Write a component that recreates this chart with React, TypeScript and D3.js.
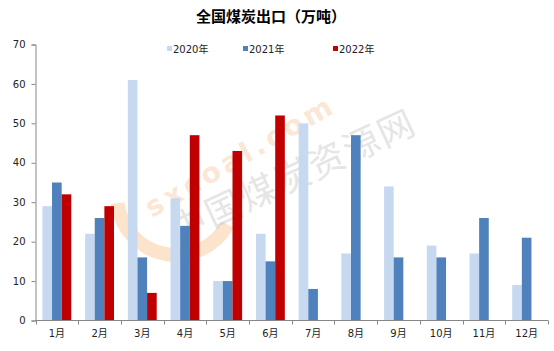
import React, { useRef, useEffect } from "react";
import * as d3 from "d3";

const months = ["1月", "2月", "3月", "4月", "5月", "6月", "7月", "8月", "9月", "10月", "11月", "12月"];
const seriesNames = ["2020年", "2021年", "2022年"];
const colors = ["#C6D9F1", "#4F81BD", "#C00000"];
const v2020 = [29, 22, 61, 31, 10, 22, 50, 17, 34, 19, 17, 9];
const v2021 = [35, 26, 16, 24, 10, 15, 8, 47, 16, 16, 26, 21];
const v2022 = [32, 29, 7, 47, 43, 52];
const yTicks = [0, 10, 20, 30, 40, 50, 60, 70];

export default function App() {
  const ref = useRef<SVGSVGElement>(null);

  useEffect(() => {
    const width = 554;
    const height = 351;
    const left = 35.5;
    const right = 548;
    const top = 44.5;
    const bottom = 320.5;
    const font = "Tahoma, 'DejaVu Sans', 'Noto Sans CJK SC', sans-serif";

    const svg = d3.select(ref.current);
    svg.selectAll("*").remove();
    svg.attr("width", width).attr("height", height);

    svg.append("rect").attr("width", width).attr("height", height).attr("fill", "#fff");

    // watermark (faint)
    const wm = svg.append("g");
    const arc = d3.arc()({
      innerRadius: 52,
      outerRadius: 66,
      startAngle: -Math.PI * 0.95,
      endAngle: -Math.PI * 0.15,
    } as any);
    wm.append("path")
      .attr("d", arc as string)
      .attr("transform", "translate(176,196) rotate(-70)")
      .attr("fill", "#F8C48F")
      .attr("opacity", 0.45);
    wm.append("text")
      .attr("transform", "translate(152,218) rotate(-30)")
      .attr("font-family", "Verdana, 'DejaVu Sans', sans-serif")
      .attr("font-weight", "bold")
      .attr("font-size", 28)
      .attr("fill", "#F7B27A")
      .attr("opacity", 0.3)
      .attr("letter-spacing", 4)
      .text("sxcoal.com");
    wm.append("text")
      .attr("transform", "translate(178,244) rotate(-25)")
      .attr("font-family", "'Noto Sans CJK SC', sans-serif")
      .attr("font-size", 36)
      .attr("fill", "#aaa")
      .attr("opacity", 0.3)
      .attr("letter-spacing", 2)
      .text("中国煤炭资源网");

    const y = d3.scaleLinear().domain([0, 70]).range([bottom, top]);
    const x0 = d3.scaleBand().domain(months).range([left, right]).padding(0);
    const x1 = d3
      .scaleBand()
      .domain(seriesNames)
      .range([0, x0.bandwidth()])
      .paddingInner(0)
      .paddingOuter(0.72);

    const data = [v2020, v2021, v2022];

    const groups = svg
      .append("g")
      .selectAll("g")
      .data(months)
      .enter()
      .append("g")
      .attr("transform", (m) => `translate(${x0(m)},0)`);

    groups
      .selectAll("rect")
      .data((m, i) =>
        seriesNames.map((s, k) => ({ s, k, v: data[k][i] })).filter((d) => d.v !== undefined)
      )
      .enter()
      .append("rect")
      .attr("x", (d) => x1(d.s)!)
      .attr("width", x1.bandwidth())
      .attr("y", (d) => y(d.v))
      .attr("height", (d) => y(0) - y(d.v))
      .attr("fill", (d) => colors[d.k]);

    // y axis
    const yAxis = svg
      .append("g")
      .attr("transform", `translate(${left},0)`)
      .call(d3.axisLeft(y).tickValues(yTicks).tickSize(4).tickPadding(6));
    yAxis.select(".domain").attr("stroke", "#868686");
    yAxis.selectAll(".tick line").attr("stroke", "#868686");
    yAxis
      .selectAll(".tick text")
      .attr("font-family", font)
      .attr("font-size", 10)
      .attr("fill", "#222");

    // x axis
    const xg = svg.append("g");
    xg.append("line")
      .attr("x1", left)
      .attr("x2", right)
      .attr("y1", bottom)
      .attr("y2", bottom)
      .attr("stroke", "#868686");
    const bounds = months.map((m) => x0(m)!).concat([right]);
    xg.selectAll("line.tk")
      .data(bounds)
      .enter()
      .append("line")
      .attr("class", "tk")
      .attr("x1", (d) => Math.round(d) + 0.5)
      .attr("x2", (d) => Math.round(d) + 0.5)
      .attr("y1", bottom)
      .attr("y2", bottom + 4)
      .attr("stroke", "#868686");
    xg.selectAll("text")
      .data(months)
      .enter()
      .append("text")
      .attr("x", (m) => x0(m)! + x0.bandwidth() / 2)
      .attr("y", 337)
      .attr("text-anchor", "middle")
      .attr("font-family", font)
      .attr("font-size", 10)
      .attr("fill", "#222")
      .text((m) => m);

    // title
    svg.append("text")
      .attr("x", 271)
      .attr("y", 22)
      .attr("text-anchor", "middle")
      .attr("font-family", "'Noto Sans CJK SC', sans-serif")
      .attr("font-weight", "bold")
      .attr("font-size", 15)
      .attr("fill", "#000")
      .text("全国煤炭出口（万吨）");

    // legend
    const legendX = [167, 243, 333];
    const lg = svg
      .append("g")
      .selectAll("g")
      .data(seriesNames)
      .enter()
      .append("g")
      .attr("transform", (d, i) => `translate(${legendX[i]},50)`);
    lg.append("rect")
      .attr("x", 0)
      .attr("y", -4)
      .attr("width", 5)
      .attr("height", 5)
      .attr("fill", (d, i) => colors[i]);
    lg.append("text")
      .attr("x", 6)
      .attr("y", 3)
      .attr("font-family", font)
      .attr("font-size", 10)
      .attr("fill", "#222")
      .text((d) => d);
  }, []);

  return <svg ref={ref} style={{ position: "absolute", left: 0, top: 0 }}></svg>;
}
